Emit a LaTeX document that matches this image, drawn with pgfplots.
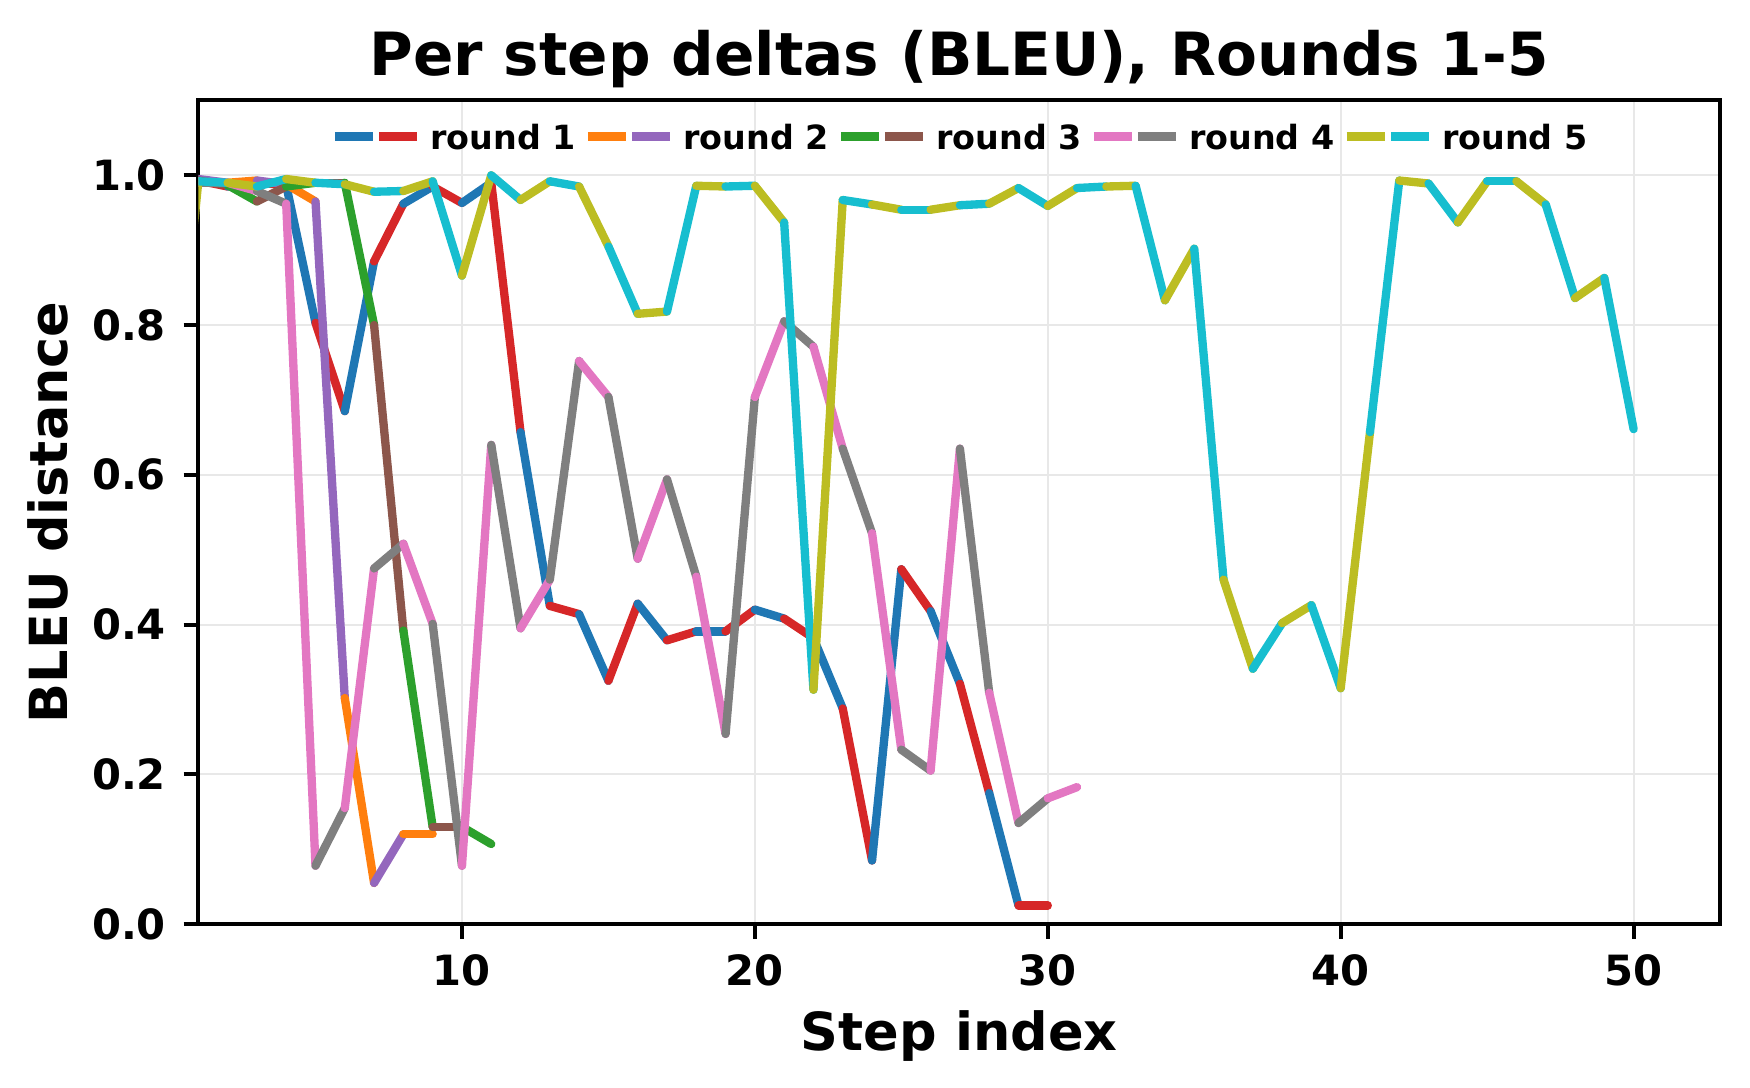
\documentclass[border=0pt]{standalone}
\usepackage{fontspec}
\setmainfont{DejaVu Sans}
\usepackage{pgfplots}
\usepackage{pgfplotstable}
\pgfplotsset{compat=1.18}

% tab10 colours
\definecolor{tabblue}{HTML}{1F77B4}
\definecolor{taborange}{HTML}{FF7F0E}
\definecolor{tabgreen}{HTML}{2CA02C}
\definecolor{tabred}{HTML}{D62728}
\definecolor{tabpurple}{HTML}{9467BD}
\definecolor{tabbrown}{HTML}{8C564B}
\definecolor{tabpink}{HTML}{E377C2}
\definecolor{tabgray}{HTML}{7F7F7F}
\definecolor{tabolive}{HTML}{BCBD22}
\definecolor{tabcyan}{HTML}{17BECF}

% c = 0 on even steps, 1 on odd steps (segment colour from its first point)
\pgfplotstableread{
x y c
1 0.993 1
2 0.985 0
3 0.990 1
4 0.987 0
5 0.803 1
6 0.685 0
7 0.885 1
8 0.962 0
9 0.985 1
10 0.963 0
11 0.990 1
12 0.657 0
13 0.425 1
14 0.414 0
15 0.325 1
16 0.428 0
17 0.379 1
18 0.391 0
19 0.391 1
20 0.420 0
21 0.408 1
22 0.382 0
23 0.288 1
24 0.085 0
25 0.474 1
26 0.418 0
27 0.321 1
28 0.175 0
29 0.025 1
30 0.025 0
}\roundone

\pgfplotstableread{
x y c
1 0.995 1
2 0.990 0
3 0.993 1
4 0.988 0
5 0.965 1
6 0.302 0
7 0.055 1
8 0.120 0
9 0.120 1
}\roundtwo

\pgfplotstableread{
x y c
1 0.993 1
2 0.987 0
3 0.965 1
4 0.985 0
5 0.990 1
6 0.990 0
7 0.800 1
8 0.392 0
9 0.130 1
10 0.130 0
11 0.107 1
}\roundthree

\pgfplotstableread{
x y c
1 0.990 1
2 0.990 0
3 0.979 1
4 0.962 0
5 0.078 1
6 0.155 0
7 0.475 1
8 0.508 0
9 0.401 1
10 0.078 0
11 0.640 1
12 0.395 0
13 0.460 1
14 0.752 0
15 0.704 1
16 0.488 0
17 0.594 1
18 0.464 0
19 0.254 1
20 0.704 0
21 0.805 1
22 0.771 0
23 0.635 1
24 0.522 0
25 0.233 1
26 0.205 0
27 0.635 1
28 0.309 0
29 0.135 1
30 0.168 0
31 0.183 1
}\roundfour

\pgfplotstableread{
x y c
0 0.600 0
1 0.992 1
2 0.990 0
3 0.985 1
4 0.995 0
5 0.990 1
6 0.988 0
7 0.978 1
8 0.979 0
9 0.992 1
10 0.866 0
11 1.000 1
12 0.967 0
13 0.992 1
14 0.985 0
15 0.905 1
16 0.815 0
17 0.818 1
18 0.986 0
19 0.985 1
20 0.986 0
21 0.937 1
22 0.313 0
23 0.967 1
24 0.961 0
25 0.954 1
26 0.954 0
27 0.960 1
28 0.962 0
29 0.983 1
30 0.959 0
31 0.983 1
32 0.985 0
33 0.986 1
34 0.833 0
35 0.902 1
36 0.460 0
37 0.341 1
38 0.402 0
39 0.426 1
40 0.315 0
41 0.657 1
42 0.993 0
43 0.989 1
44 0.937 0
45 0.992 1
46 0.992 0
47 0.961 1
48 0.836 0
49 0.863 1
50 0.661 0
}\roundfive

\pgfplotsset{
  colormap={r1}{color(0)=(tabblue) color(1)=(tabred)},
  colormap={r2}{color(0)=(taborange) color(1)=(tabpurple)},
  colormap={r3}{color(0)=(tabgreen) color(1)=(tabbrown)},
  colormap={r4}{color(0)=(tabpink) color(1)=(tabgray)},
  colormap={r5}{color(0)=(tabolive) color(1)=(tabcyan)},
  seg/.style={mesh, shader=flat corner, line width=2pt, line cap=round,
    line join=round, point meta=explicit, point meta min=0, point meta max=1,
    forget plot},
  twoline/.style 2 args={legend image code/.code={
    \draw[#1, line width=2pt] (0pt,0.8pt) -- (9.2pt,0.8pt);
    \draw[#2, line width=2pt] (10.6pt,0.8pt) -- (19.8pt,0.8pt);}},
}

\begin{document}
\begin{tikzpicture}
\begin{axis}[
  scale only axis,
  width=365.2pt, height=197.7pt,
  xmin=1, xmax=52.95, ymin=0, ymax=1.1,
  xtick={10,20,30,40,50},
  ytick={0,0.2,0.4,0.6,0.8,1},
  tick pos=left,
  tick align=outside,
  major tick length=3.5pt,
  major tick style={black, line width=1pt},
  axis line style={line width=1pt},
  grid=major,
  major grid style={line width=0.5pt, draw=black!9},
  /pgf/number format/assume math mode=true,
  ticklabel style={font=\bfseries\fontsize{10}{12}\selectfont},
  xticklabel style={inner sep=0pt, anchor=north, yshift=-3.7pt},
  yticklabel style={inner sep=0pt, anchor=east, xshift=-4.1pt,
    /pgf/number format/.cd, fixed, fixed zerofill, precision=1},
  title={Per step deltas (BLEU), Rounds 1-5},
  title style={at={(0.5,1.0298)}, anchor=base, yshift=-6pt,
    font=\bfseries\fontsize{14.3}{17}\selectfont},
  xlabel={Step index},
  xlabel style={at={(0.5,-0.1528)}, anchor=base, font=\bfseries\fontsize{12.6}{15}\selectfont},
  ylabel={BLEU distance},
  ylabel style={at={(-0.0857,0.5)}, anchor=base, font=\bfseries\fontsize{12.6}{15}\selectfont},
  legend columns=5,
  legend cell align=left,
  legend style={at={(0.5,0.952)}, anchor=center, draw=none, fill=none,
    font=\bfseries\fontsize{8}{9.6}\selectfont,
    nodes={inner sep=0pt},
    /tikz/every odd column/.style={column sep=2.1pt},
    /tikz/every even column/.style={column sep=1.9pt}},
]
\addplot[seg, colormap name=r1] table[x=x, y=y, meta=c] {\roundone};
\addplot[seg, colormap name=r2] table[x=x, y=y, meta=c] {\roundtwo};
\addplot[seg, colormap name=r3] table[x=x, y=y, meta=c] {\roundthree};
\addplot[seg, colormap name=r4] table[x=x, y=y, meta=c] {\roundfour};
\addplot[seg, colormap name=r5] table[x=x, y=y, meta=c] {\roundfive};

\addlegendimage{twoline={tabblue}{tabred}}
\addlegendentry{round 1}
\addlegendimage{twoline={taborange}{tabpurple}}
\addlegendentry{round 2}
\addlegendimage{twoline={tabgreen}{tabbrown}}
\addlegendentry{round 3}
\addlegendimage{twoline={tabpink}{tabgray}}
\addlegendentry{round 4}
\addlegendimage{twoline={tabolive}{tabcyan}}
\addlegendentry{round 5}
\end{axis}
\path (current axis.south west) ++(-47.6pt,-39.3pt) rectangle ++(420pt,261.1pt);
\end{tikzpicture}
\end{document}
